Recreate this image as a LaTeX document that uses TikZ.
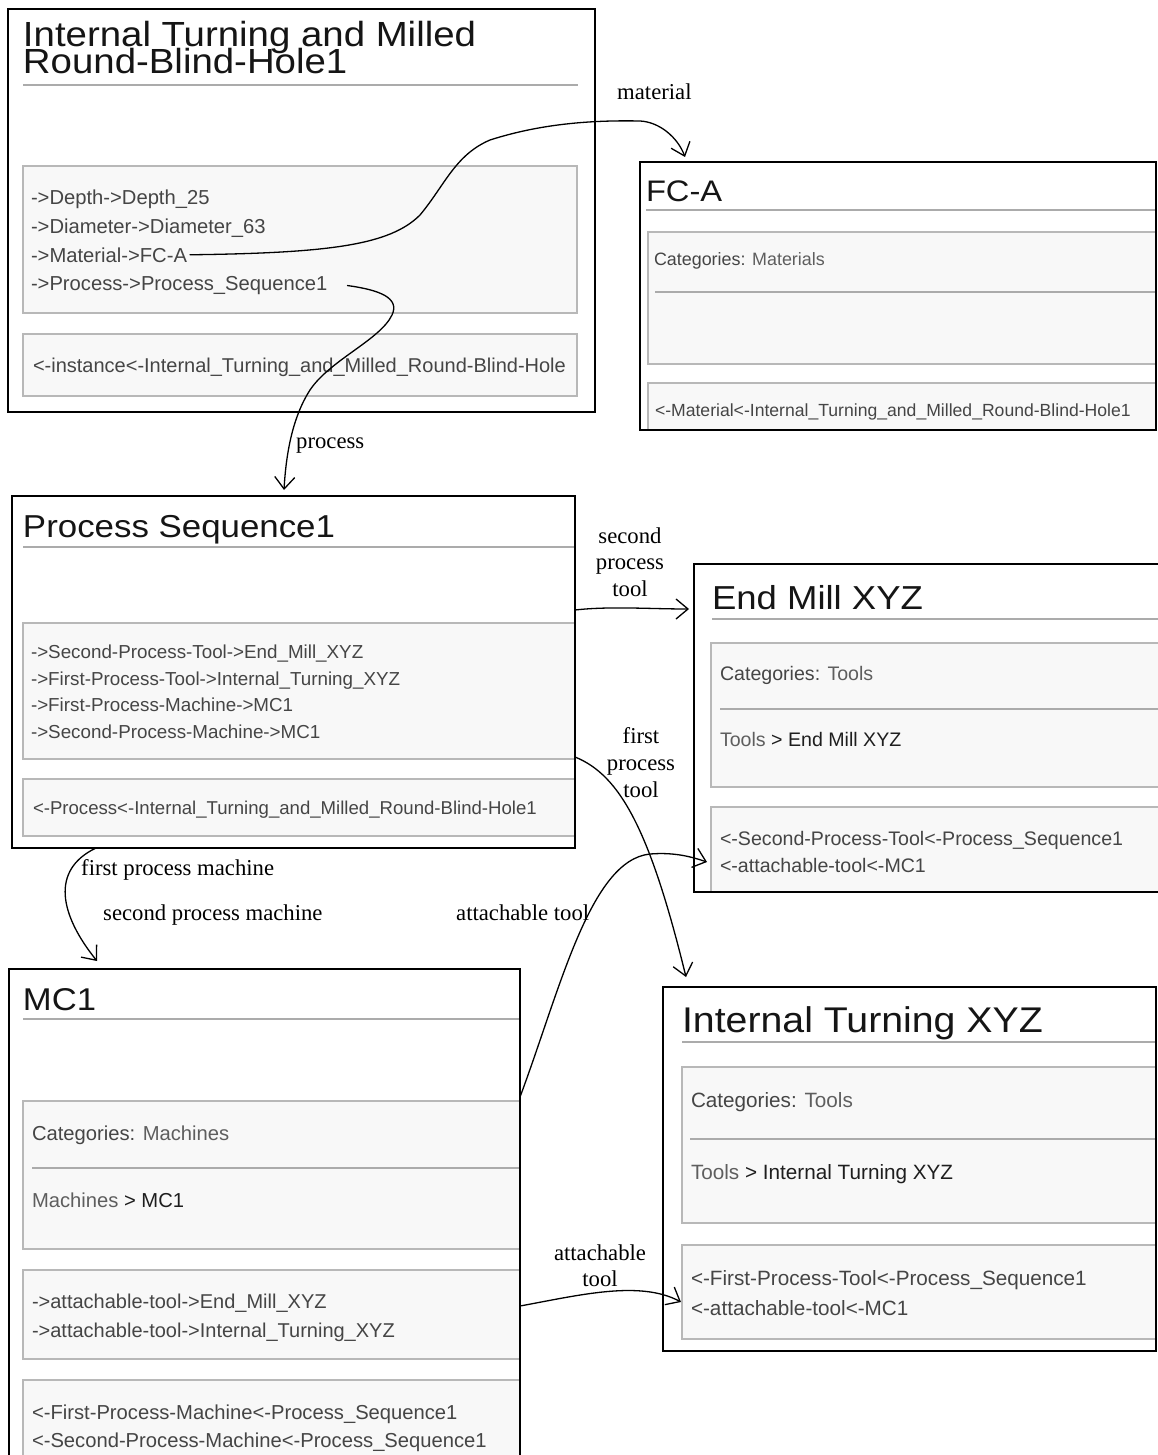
\documentclass[tikz,border=0pt]{standalone}
\usepackage{fontspec}
\setmainfont{Liberation Sans}
\newfontfamily\headfont[FakeStretch=1.1]{Liberation Sans}
\newfontfamily\labelserif{Liberation Serif}
\usetikzlibrary{arrows.meta}

\definecolor{panelfill}{HTML}{F8F8F8}
\definecolor{paneledge}{HTML}{B8B8B8}
\definecolor{rulegray}{HTML}{ABABAB}
\definecolor{bodytext}{HTML}{454545}
\definecolor{linktext}{HTML}{5E5E5E}
\definecolor{titletext}{HTML}{151515}
\definecolor{crumbtext}{HTML}{1E1E1E}

\newcommand{\pxfont}[1]{\fontsize{#1}{#1}\selectfont}

\tikzset{
  page/.style={draw=black, line width=1.6pt, anchor=north west, inner sep=0pt, outer sep=0pt},
  panel/.style={fill=panelfill, draw=paneledge, line width=1.1pt},
  titlerule/.style={draw=rulegray, line width=1.2pt},
  txt/.style={anchor=base west, inner sep=0pt, outer sep=0pt, text=bodytext},
  ttl/.style={anchor=base west, inner sep=0pt, outer sep=0pt, text=titletext},
  lbl/.style={anchor=base, inner sep=0pt, text=black, font=\labelserif\pxfont{22.7}},
  lblw/.style={lbl, anchor=base west},
  link/.style={line width=1.3pt, line cap=round, -{Straight Barb[length=12pt,width=20pt]}},
}

\begin{document}
\begin{tikzpicture}[x=1pt,y=-1pt]
\useasboundingbox (0,0) rectangle (1157,1455);
\fill[white] (0,0) rectangle (1157,1455);

% ---------- panels and rules ----------
% Internal Turning and Milled Round-Blind-Hole1
\draw[titlerule] (23,85) -- (578,85);
\draw[panel] (23,166) rectangle (577,313);
\draw[panel] (23,334) rectangle (577,396);
% FC-A
\draw[titlerule] (646,210) -- (1156,210);
\draw[panel] (648,232) rectangle (1156,364);
\draw[titlerule] (655,292) -- (1156,292);
\draw[panel] (648,383) rectangle (1156,430);
% Process Sequence1
\draw[titlerule] (23,547) -- (575,547);
\draw[panel] (23,623) rectangle (575,759);
\draw[panel] (23,779) rectangle (575,836);
% End Mill XYZ
\draw[titlerule] (712,619) -- (1162,619);
\draw[panel] (711,643) rectangle (1162,787);
\draw[titlerule] (720,709) -- (1162,709);
\draw[panel] (711,807) rectangle (1162,892);
% Internal Turning XYZ
\draw[titlerule] (682,1042) -- (1156,1042);
\draw[panel] (682,1067) rectangle (1156,1223);
\draw[titlerule] (690,1139) -- (1156,1139);
\draw[panel] (682,1245) rectangle (1156,1339);
% MC1
\draw[titlerule] (23,1019) -- (520,1019);
\draw[panel] (23,1101) rectangle (520,1249);
\draw[titlerule] (32,1168) -- (520,1168);
\draw[panel] (23,1270) rectangle (520,1359);
\draw[panel] (23,1380) rectangle (520,1470);

% ---------- page frames ----------
\node[page, minimum width=587pt, minimum height=403pt] (hole) at (8,9) {};
\node[page, minimum width=516pt, minimum height=268pt] (fca) at (640,162) {};
\node[page, minimum width=563pt, minimum height=352pt] (proc) at (12,496) {};
\node[page, minimum width=472pt, minimum height=328pt] (endmill) at (694,564) {};
\node[page, minimum width=511pt, minimum height=500pt] (mc) at (9,969) {};
\node[page, minimum width=493pt, minimum height=364pt] (ituning) at (663,987) {};

% ---------- texts ----------
% Internal Turning and Milled Round-Blind-Hole1
\node[ttl, font=\headfont\pxfont{34.9}] (holeT1) at (23,47) {Internal Turning and Milled};
\node[ttl, font=\headfont\pxfont{34.9}] (holeT2) at (23,74) {Round-Blind-Hole1};
\node[txt, font=\pxfont{20.2}] (holeP1) at (31,205) {->Depth->Depth\_25};
\node[txt, font=\pxfont{20.2}] (holeP2) at (31,233.5) {->Diameter->Diameter\_63};
\node[txt, font=\pxfont{20.2}] (holeP3) at (31,262) {->Material->FC-A};
\node[txt, font=\pxfont{20.2}] (holeP4) at (31,290.5) {->Process->Process\_Sequence1};
\node[txt, font=\pxfont{20.0}] (holeI) at (33,372) {<-instance<-Internal\_Turning\_and\_Milled\_Round-Blind-Hole};

% FC-A
\node[ttl, font=\headfont\pxfont{29.7}] (fcaT) at (646,202) {FC-A};
\node[txt, font=\pxfont{17.9}] (fcaCat) at (654,265.5) {Categories: \textcolor{linktext}{Materials}};
\node[txt, font=\pxfont{17.6}] (fcaBack) at (655,416) {<-Material<-Internal\_Turning\_and\_Milled\_Round-Blind-Hole1};

% Process Sequence1
\node[ttl, font=\headfont\pxfont{31.7}] (procT) at (23,537) {Process Sequence1};
\node[txt, font=\pxfont{18.8}] (procP1) at (31,658.5) {->Second-Process-Tool->End\_Mill\_XYZ};
\node[txt, font=\pxfont{18.8}] (procP2) at (31,685) {->First-Process-Tool->Internal\_Turning\_XYZ};
\node[txt, font=\pxfont{18.8}] (procP3) at (31,711.5) {->First-Process-Machine->MC1};
\node[txt, font=\pxfont{18.8}] (procP4) at (31,738) {->Second-Process-Machine->MC1};
\node[txt, font=\pxfont{18.6}] (procBack) at (33,814.5) {<-Process<-Internal\_Turning\_and\_Milled\_Round-Blind-Hole1};

% End Mill XYZ
\node[ttl, font=\headfont\pxfont{33.2}] (emT) at (712,609) {End Mill XYZ};
\node[txt, font=\pxfont{19.6}] (emCat) at (720,680) {Categories: \textcolor{linktext}{Tools}};
\node[txt, font=\pxfont{19.6}] (emCrumb) at (720,746) {\textcolor{linktext}{Tools} \textcolor{crumbtext}{> End Mill XYZ}};
\node[txt, font=\pxfont{19.6}] (emBack1) at (720,845) {<-Second-Process-Tool<-Process\_Sequence1};
\node[txt, font=\pxfont{19.6}] (emBack2) at (720,872) {<-attachable-tool<-MC1};

% Internal Turning XYZ
\node[ttl, font=\headfont\pxfont{35.7}] (itT) at (682,1032) {Internal Turning XYZ};
\node[txt, font=\pxfont{20.7}] (itCat) at (691,1107) {Categories: \textcolor{linktext}{Tools}};
\node[txt, font=\pxfont{20.7}] (itCrumb) at (691,1179) {\textcolor{linktext}{Tools} \textcolor{crumbtext}{> Internal Turning XYZ}};
\node[txt, font=\pxfont{20.7}] (itBack1) at (691,1285) {<-First-Process-Tool<-Process\_Sequence1};
\node[txt, font=\pxfont{20.7}] (itBack2) at (691,1315) {<-attachable-tool<-MC1};

% MC1
\node[ttl, font=\headfont\pxfont{31.5}] (mcT) at (23,1010) {MC1};
\node[txt, font=\pxfont{20.2}] (mcCat) at (32,1140) {Categories: \textcolor{linktext}{Machines}};
\node[txt, font=\pxfont{20.2}] (mcCrumb) at (32,1207) {\textcolor{linktext}{Machines} \textcolor{crumbtext}{> MC1}};
\node[txt, font=\pxfont{20.0}] (mcP1) at (32,1308) {->attachable-tool->End\_Mill\_XYZ};
\node[txt, font=\pxfont{20.0}] (mcP2) at (32,1337) {->attachable-tool->Internal\_Turning\_XYZ};
\node[txt, font=\pxfont{20.2}] (mcBack1) at (32,1419) {<-First-Process-Machine<-Process\_Sequence1};
\node[txt, font=\pxfont{20.2}] (mcBack2) at (32,1447) {<-Second-Process-Machine<-Process\_Sequence1};

% ---------- connector labels ----------
\node[lblw] (lMaterial) at (617,100) {material};
\node[lblw] (lProcess) at (296,448) {process};
\node[lbl] (lSecTool1) at (630,543) {second};
\node[lbl] (lSecTool2) at (630,569.5) {process};
\node[lbl] (lSecTool3) at (630,596) {tool};
\node[lbl] (lFirstTool1) at (641,743) {first};
\node[lbl] (lFirstTool2) at (641,770) {process};
\node[lbl] (lFirstTool3) at (641,797) {tool};
\node[lblw] (lFirstMach) at (81,875) {first process machine};
\node[lblw] (lSecMach) at (103,920) {second process machine};
\node[lblw] (lAttachUp) at (456,920) {attachable tool};
\node[lbl] (lAttachLow1) at (600,1260) {attachable};
\node[lbl] (lAttachLow2) at (600,1286) {tool};

% ---------- connectors ----------
\coordinate (matTip) at (685,157);
\coordinate (procTip) at (284,490);
\coordinate (secToolTip) at (689,609);
\coordinate (firstToolTip) at (686,977);
\coordinate (machTip) at (97,961);
\coordinate (attachMillTip) at (707,862);
\coordinate (attachTurnTip) at (681,1302);

\draw[link] ([xshift=3pt]holeP3.east)
  .. controls (330,253) and (390,245) .. (420,215)
  .. controls (445,185) and (455,155) .. (490,140)
  .. controls (540,124) and (590,120) .. (640,121)
  .. controls (660,122) and (678,138) .. (matTip);

\draw[link] ([xshift=20pt]holeP4.east)
  .. controls (380,290) and (400,298) .. (392,315)
  .. controls (380,340) and (330,360) .. (310,390)
  .. controls (292,418) and (286,455) .. (procTip);

\draw[link] (proc.east |- 0,610)
  .. controls (610,606) and (650,609) .. (secToolTip);

\draw[link] (proc.east |- 0,757)
  .. controls (620,775) and (650,830) .. (firstToolTip);

\draw[link] (proc.south -| 96,0)
  .. controls (50,870) and (60,915) .. (machTip);

\draw[link] (mc.east |- 0,1097)
  .. controls (560,990) and (590,860) .. (650,854)
  .. controls (675,852) and (692,857) .. (attachMillTip);

\draw[link] (mc.east |- 0,1306)
  .. controls (580,1295) and (640,1280) .. (attachTurnTip);

\end{tikzpicture}
\end{document}
